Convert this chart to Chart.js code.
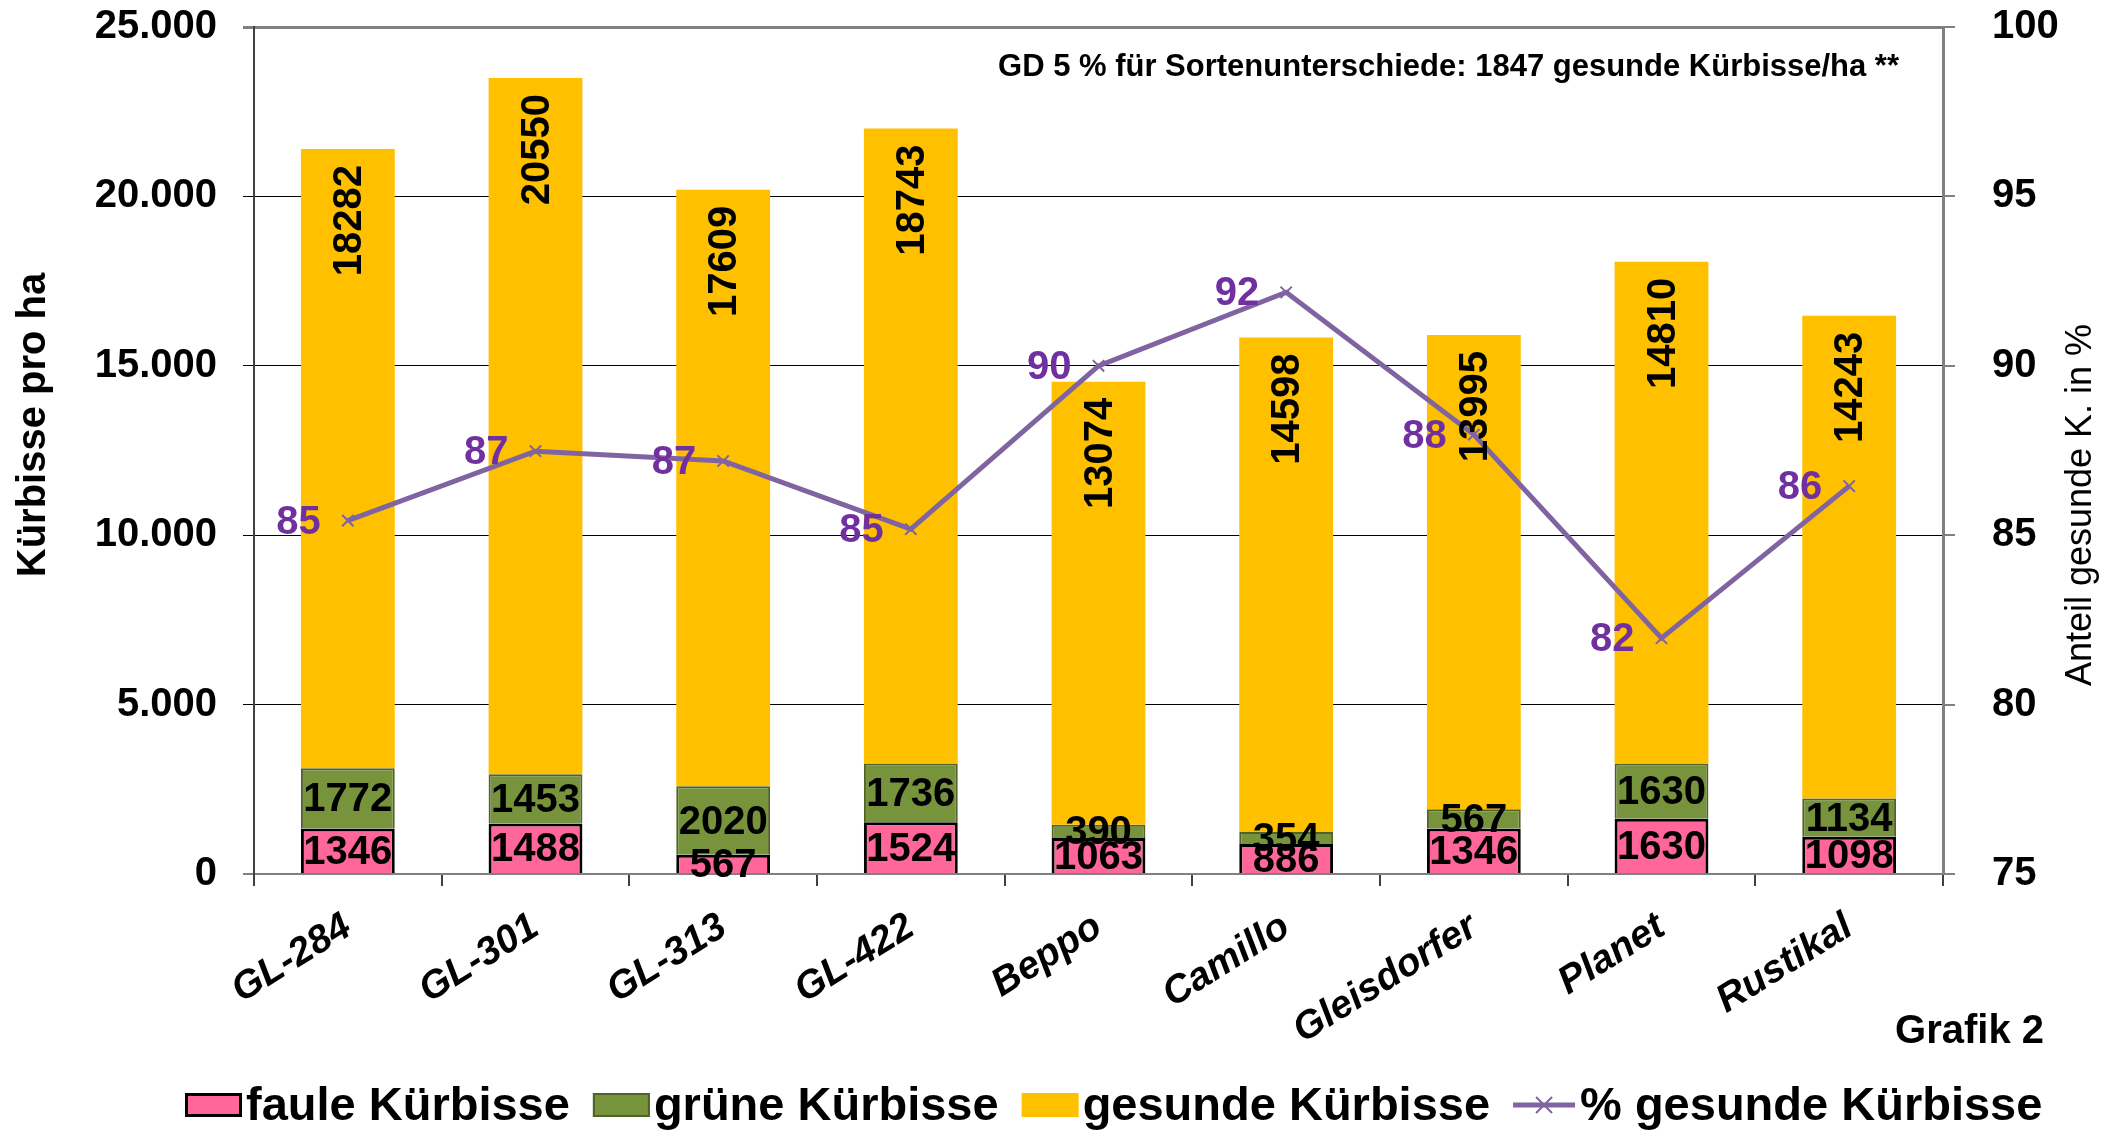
<!DOCTYPE html>
<html>
<head>
<meta charset="utf-8">
<script src="https://cdn.jsdelivr.net/npm/chart.js@4.4.1/dist/chart.umd.min.js"></script>
<style>
  body { margin: 0; background: #fff; }
  #wrap { width: 2107px; height: 1130px; }
</style>
</head>
<body>
<div id="wrap"><canvas id="kuerbisChart"></canvas></div>
<script>
const sorten = ["GL-284", "GL-301", "GL-313", "GL-422", "Beppo", "Camillo", "Gleisdorfer", "Planet", "Rustikal"];
const faule = [1346, 1488, 567, 1524, 1063, 886, 1346, 1630, 1098];
const gruene = [1772, 1453, 2020, 1736, 390, 354, 567, 1630, 1134];
const gesunde = [18282, 20550, 17609, 18743, 13074, 14598, 13995, 14810, 14243];
const anteilGesund = [85.43, 87.48, 87.19, 85.18, 90.0, 92.17, 87.97, 81.96, 86.45];
const serienNamen = ["faule Kürbisse", "grüne Kürbisse", "gesunde Kürbisse", "% gesunde Kürbisse"];
const hinweis = "GD 5 % für Sortenunterschiede: 1847 gesunde Kürbisse/ha **";

const FONT = "'Liberation Sans', Arial, sans-serif";
const PINK = "#FF6699", GREEN = "#77933C", YELLOW = "#FFC000", PURPLE = "#8064A2";

// fixed plot box like the original sheet
function fixBox(size) {
    return function (s) {
        if (s.isHorizontal()) s.height = size; else s.width = size;
        s.paddingTop = 0;
        s.paddingBottom = 0;
        s.paddingLeft = 0;
        s.paddingRight = 0;
    };
}

// labels, axis titles, note and legend drawn on the canvas
const extras = {
    id: "extras",
    afterDatasetsDraw(chart) {
        const ctx = chart.ctx;
        ctx.save();
        ctx.fillStyle = "#000";
        ctx.font = "bold 40px " + FONT;
        ctx.textAlign = "center";
        ctx.textBaseline = "middle";
        [0, 1].forEach(function (di) {
            chart.getDatasetMeta(di).data.forEach(function (bar, i) {
                const v = chart.data.datasets[di].data[i];
                ctx.fillText(String(v), bar.x, (bar.y + bar.base) / 2 + 2);
            });
        });
        chart.getDatasetMeta(2).data.forEach(function (bar, i) {
            const v = chart.data.datasets[2].data[i];
            ctx.save();
            ctx.translate(bar.x + 2, bar.y + 16);
            ctx.rotate(-Math.PI / 2);
            ctx.textAlign = "right";
            ctx.fillText(String(v), 0, 0);
            ctx.restore();
        });
        ctx.fillStyle = "#7030A0";
        ctx.textAlign = "right";
        chart.getDatasetMeta(3).data.forEach(function (pt, i) {
            ctx.fillText(String(Math.round(anteilGesund[i])), pt.x - 27, pt.y + 2);
        });
        ctx.restore();
    },
    afterDraw(chart) {
        const ctx = chart.ctx;
        ctx.save();
        ctx.fillStyle = "#000";
        ctx.textBaseline = "middle";
        // axis titles
        ctx.save();
        ctx.translate(34, 425);
        ctx.rotate(-Math.PI / 2);
        ctx.textAlign = "center";
        ctx.font = "bold 40px " + FONT;
        ctx.fillText("Kürbisse pro ha", 0, 0);
        ctx.restore();
        ctx.save();
        ctx.translate(2081, 505);
        ctx.rotate(-Math.PI / 2);
        ctx.textAlign = "center";
        ctx.font = "36px " + FONT;
        ctx.fillText("Anteil gesunde K. in %", 0, 0);
        ctx.restore();
        // note and figure number
        ctx.textBaseline = "alphabetic";
        ctx.textAlign = "right";
        ctx.font = "bold 31px " + FONT;
        ctx.fillText(hinweis, 1899, 76);
        ctx.font = "bold 40px " + FONT;
        ctx.fillText("Grafik 2", 2044, 1043);
        // legend
        ctx.textAlign = "left";
        ctx.textBaseline = "middle";
        ctx.font = "bold 47px " + FONT;
        let x = 185;
        const y = 1105;
        const boxes = [
            { fill: PINK, stroke: "#000", lw: 3 },
            { fill: GREEN, stroke: "#4F6228", lw: 2 },
            { fill: YELLOW, stroke: null, lw: 0 },
        ];
        serienNamen.forEach(function (name, i) {
            if (i < 3) {
                const b = boxes[i];
                ctx.fillStyle = b.fill;
                ctx.fillRect(x, y - 12, 57, 24);
                if (b.stroke) {
                    ctx.strokeStyle = b.stroke;
                    ctx.lineWidth = b.lw;
                    ctx.strokeRect(x + b.lw / 2, y - 12 + b.lw / 2, 57 - b.lw, 24 - b.lw);
                }
            } else {
                ctx.strokeStyle = PURPLE;
                ctx.lineWidth = 5;
                ctx.beginPath();
                ctx.moveTo(x, y);
                ctx.lineTo(x + 62, y);
                ctx.stroke();
                ctx.lineWidth = 2;
                const cx = x + 31, r = 8;
                ctx.beginPath();
                ctx.moveTo(cx - r, y - r); ctx.lineTo(cx + r, y + r);
                ctx.moveTo(cx + r, y - r); ctx.lineTo(cx - r, y + r);
                ctx.stroke();
            }
            const tx = x + (i < 3 ? 61 : 67);
            ctx.fillStyle = "#000";
            ctx.fillText(name, tx, y + 2);
            x = tx + ctx.measureText(name).width + 23;
        });
        ctx.restore();
    },
};

new Chart(document.getElementById("kuerbisChart").getContext("2d"), {
    type: "bar",
    data: {
        labels: sorten,
        datasets: [
            { label: serienNamen[0], data: faule, backgroundColor: PINK, borderColor: "#000", borderWidth: 3, yAxisID: "y", order: 1 },
            { label: serienNamen[1], data: gruene, backgroundColor: GREEN, borderColor: "#4F6228", borderWidth: 2, yAxisID: "y", order: 1 },
            { label: serienNamen[2], data: gesunde, backgroundColor: YELLOW, borderWidth: 0, yAxisID: "y", order: 1 },
            {
                type: "line",
                label: serienNamen[3],
                data: anteilGesund,
                yAxisID: "y1",
                borderColor: PURPLE,
                borderWidth: 5,
                tension: 0,
                pointStyle: "crossRot",
                pointRadius: 8,
                pointBorderWidth: 2,
                pointBorderColor: PURPLE,
                order: 0,
            },
        ],
    },
    options: {
        responsive: true,
        maintainAspectRatio: false,
        animation: false,
        devicePixelRatio: 1,
        layout: { padding: { top: 27, left: 0, right: 0, bottom: 0 } },
        datasets: { bar: { barPercentage: 0.5, categoryPercentage: 1 } },
        plugins: { legend: { display: false }, tooltip: { enabled: false } },
        scales: {
            x: {
                stacked: true,
                afterFit: fixBox(256),
                grid: { drawOnChartArea: false, tickLength: 12, color: "#404040", lineWidth: 2 },
                border: { color: "#808080", width: 2 },
                ticks: {
                    autoSkip: false,
                    minRotation: 32,
                    maxRotation: 32,
                    padding: 18,
                    color: "#000",
                    font: { family: FONT, size: 39, weight: "bold", style: "italic" },
                },
            },
            y: {
                stacked: true,
                position: "left",
                min: 0,
                max: 25000,
                afterFit: fixBox(254),
                grid: {
                    tickLength: 11,
                    color: function (c) { return (c.tick.value === 25000 || c.tick.value === 0) ? "#808080" : "#000"; },
                    lineWidth: function (c) { return c.tick.value === 25000 ? 3 : (c.tick.value === 0 ? 2 : 1); },
                },
                border: { color: "#404040", width: 2 },
                ticks: {
                    stepSize: 5000,
                    padding: 26,
                    color: "#000",
                    font: { family: FONT, size: 40, weight: "bold" },
                    callback: function (v) { return v.toLocaleString("de-DE"); },
                },
            },
            y1: {
                position: "right",
                min: 75,
                max: 100,
                afterFit: fixBox(164),
                grid: { drawOnChartArea: false, tickLength: 12, color: "#808080", lineWidth: 2 },
                border: { color: "#808080", width: 3 },
                ticks: {
                    stepSize: 5,
                    padding: 37,
                    color: "#000",
                    font: { family: FONT, size: 40, weight: "bold" },
                },
            },
        },
    },
    plugins: [extras],
});
</script>
</body>
</html>
